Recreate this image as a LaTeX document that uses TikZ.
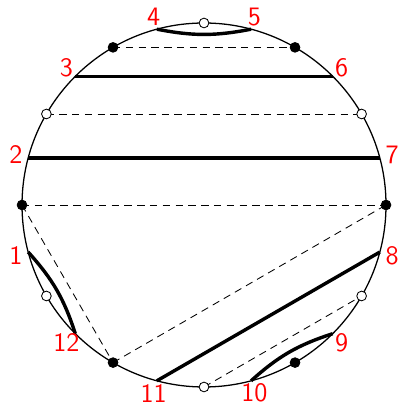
\documentclass[tikz,border=0pt]{standalone}
\usepackage{xcolor}
\usepackage{amsmath}
\usepackage{tikz}

\begin{document}
\begin{tikzpicture}[
    num/.style={text=red, font=\sffamily\fontsize{12.5}{14}\selectfont},
    bdot/.style={circle, draw, fill=black, inner sep=0pt, minimum size=0.16cm},
    wdot/.style={circle, draw, fill=white, inner sep=0pt, minimum size=0.16cm},
    chord/.style={line width=1.6pt},
    aux/.style={dash pattern=on 3.5pt off 2.5pt, line width=0.4pt}
  ]
  \useasboundingbox (-3.363,-3.297) rectangle (3.214,3.379);

  \draw[semithick] (0,0) circle (3);

  % endpoints of the chords
  \coordinate (p1) at (195:3);
  \coordinate (p2) at (165:3);
  \coordinate (p3) at (135:3);
  \coordinate (p4) at (105:3);
  \coordinate (p5) at (75:3);
  \coordinate (p6) at (45:3);
  \coordinate (p7) at (15:3);
  \coordinate (p8) at (345:3);
  \coordinate (p9) at (315:3);
  \coordinate (p10) at (285:3);
  \coordinate (p11) at (255:3);
  \coordinate (p12) at (225:3);

  % marked points
  \coordinate (b0) at (0:3);
  \coordinate (b60) at (60:3);
  \coordinate (b120) at (120:3);
  \coordinate (b180) at (180:3);
  \coordinate (b240) at (240:3);
  \coordinate (b300) at (300:3);
  \coordinate (w30) at (30:3);
  \coordinate (w90) at (90:3);
  \coordinate (w150) at (150:3);
  \coordinate (w210) at (210:3);
  \coordinate (w270) at (270:3);
  \coordinate (w330) at (330:3);

  \draw[aux] (b120) -- (b60);
  \draw[aux] (w150) -- (w30);
  \draw[aux] (b180) -- (b0);
  \draw[aux] (b180) -- (b240);
  \draw[aux] (b240) -- (b0);
  \draw[aux] (w270) -- (w330);

  \draw[chord] (p3) -- (p6);
  \draw[chord] (p2) -- (p7);
  \draw[chord] (p11) -- (p8);
  \draw[chord] (p4) to[bend right=11] (p5);
  \draw[chord] (p12) to[bend right=12] (p1);
  \draw[chord] (p9) to[bend right=12] (p10);

  \node[bdot] (d0) at (b0) {};
  \node[bdot] (d60) at (b60) {};
  \node[bdot] (d120) at (b120) {};
  \node[bdot] (d180) at (b180) {};
  \node[bdot] (d240) at (b240) {};
  \node[bdot] (d300) at (b300) {};
  \node[wdot] (d30) at (w30) {};
  \node[wdot] (d90) at (w90) {};
  \node[wdot] (d150) at (w150) {};
  \node[wdot] (d210) at (w210) {};
  \node[wdot] (d270) at (w270) {};
  \node[wdot] (d330) at (w330) {};

  \node[num] (n1) at (195:3.21) {1};
  \node[num] (n2) at (165:3.21) {2};
  \node[num] (n3) at (135:3.21) {3};
  \node[num] (n4) at (105:3.21) {4};
  \node[num] (n5) at (75:3.21) {5};
  \node[num] (n6) at (45:3.21) {6};
  \node[num] (n7) at (15:3.21) {7};
  \node[num] (n8) at (345:3.21) {8};
  \node[num] (n9) at (315:3.21) {9};
  \node[num] (n10) at (285:3.21) {10};
  \node[num] (n11) at (255:3.21) {11};
  \node[num] (n12) at (225:3.21) {12};
\end{tikzpicture}
\end{document}
